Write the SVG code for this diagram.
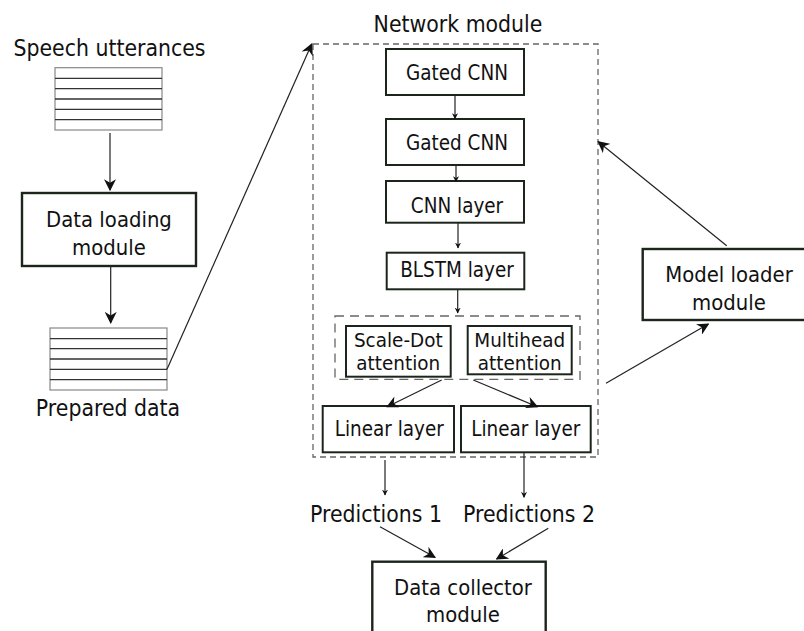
<svg xmlns="http://www.w3.org/2000/svg" width="804" height="631" viewBox="0 0 804 631">
<defs>
<style>
.t{font-family:"DejaVu Sans",sans-serif;fill:#111;text-anchor:middle;}
.big{font-size:20.5px;}
.mid{font-size:19.7px;}
.sm{font-size:18.4px;}
.box{fill:#fff;stroke:#1c251c;stroke-width:2;}
.bbox{fill:#fff;stroke:#1c251c;stroke-width:2.4;}
.dash{fill:none;stroke:#666;stroke-width:1.3;stroke-dasharray:6 4;}
.stk{fill:#fff;stroke:#888;stroke-width:1.2;}
.ln{stroke:#333;stroke-width:1.3;}
.c{fill:none;stroke:#222;stroke-width:1.2;}
</style>
<marker id="ahs" viewBox="0 0 10 10" refX="9" refY="5" markerWidth="6" markerHeight="6" markerUnits="userSpaceOnUse" orient="auto">
<path d="M0,0 L10,5 L0,10 L3,5 z" fill="#111"/>
</marker>
<marker id="ahb" viewBox="0 0 10 10" refX="9" refY="5" markerWidth="12" markerHeight="12" markerUnits="userSpaceOnUse" orient="auto">
<path d="M0,0 L10,5 L0,10 L3,5 z" fill="#111"/>
</marker>
</defs>
<rect width="804" height="631" fill="#fff"/>

<g id="speech-utterances">
<text class="t big" transform="translate(109.5,56) scale(1,1.1)">Speech utterances</text>
<rect class="stk" x="55" y="67.7" width="107" height="62.3"/>
<path class="ln" d="M55 78.3H162M55 88.7H162M55 99H162M55 109.3H162M55 119.7H162"/>
</g>

<g id="data-loading">
<rect class="bbox" x="22" y="193" width="174" height="73"/>
<text class="t mid" transform="translate(109,227) scale(1,1.1)">Data loading</text>
<text class="t mid" transform="translate(109,255) scale(1,1.1)">module</text>
</g>

<g id="prepared-data">
<rect class="stk" x="50" y="328" width="117" height="62"/>
<path class="ln" d="M50 338.7H167M50 348.7H167M50 359H167M50 369.3H167M50 379.7H167"/>
<text class="t big" transform="translate(108,416) scale(1,1.1)">Prepared data</text>
</g>

<g id="network-module">
<text class="t big" transform="translate(458,32) scale(1,1.1)">Network module</text>
<rect class="dash" x="313" y="44" width="285" height="413"/>
</g>

<g id="gated-cnn-1">
<rect class="box" x="386" y="49" width="138" height="46"/>
<text class="t sm" transform="translate(457,80) scale(1,1.2)">Gated CNN</text>
</g>
<g id="gated-cnn-2">
<rect class="box" x="386" y="119" width="138" height="46"/>
<text class="t sm" transform="translate(457,149.5) scale(1,1.2)">Gated CNN</text>
</g>
<g id="cnn-layer">
<rect class="box" x="386" y="181" width="138" height="41.7"/>
<text class="t sm" transform="translate(457,212.5) scale(1,1.2)">CNN layer</text>
</g>
<g id="blstm-layer">
<rect class="box" x="386.7" y="252.7" width="137.6" height="36.6"/>
<text class="t sm" transform="translate(457,277) scale(1,1.2)">BLSTM layer</text>
</g>

<g id="attention-group">
<rect class="dash" x="335" y="316" width="245" height="63.3" style="stroke-dasharray:9 6"/>
</g>
<g id="scale-dot">
<rect class="box" x="346" y="326" width="104.7" height="50.7"/>
<text class="t sm" transform="translate(398.3,346.5) scale(1,1.05)">Scale-Dot</text>
<text class="t sm" transform="translate(398.3,370) scale(1,1.05)">attention</text>
</g>
<g id="multihead">
<rect class="box" x="467.7" y="326" width="104" height="48.3"/>
<text class="t sm" transform="translate(519.7,346.5) scale(1,1.05)">Multihead</text>
<text class="t sm" transform="translate(519.7,370) scale(1,1.05)">attention</text>
</g>

<g id="linear-1">
<rect class="box" x="322.7" y="406" width="131.3" height="46.3"/>
<text class="t sm" transform="translate(389.3,436) scale(1,1.2)">Linear layer</text>
</g>
<g id="linear-2">
<rect class="box" x="461" y="406" width="129.7" height="46.3"/>
<text class="t sm" transform="translate(525.8,436) scale(1,1.2)">Linear layer</text>
</g>

<g id="predictions-1">
<text class="t big" transform="translate(376,521.5) scale(1,1.1)">Predictions 1</text>
</g>
<g id="predictions-2">
<text class="t big" transform="translate(529,521.5) scale(1,1.1)">Predictions 2</text>
</g>

<g id="data-collector">
<rect class="bbox" x="372.3" y="561.7" width="173.4" height="80"/>
<text class="t mid" transform="translate(463,594.5) scale(1,1.1)">Data collector</text>
<text class="t mid" transform="translate(463,622) scale(1,1.1)">module</text>
</g>

<g id="model-loader">
<rect class="bbox" x="642.7" y="249" width="170" height="71"/>
<text class="t mid" transform="translate(729,281.5) scale(1,1.1)">Model loader</text>
<text class="t mid" transform="translate(729,309.5) scale(1,1.1)">module</text>
</g>

<g id="connectors">
<line class="c" x1="110" y1="133" x2="110" y2="190" marker-end="url(#ahb)"/>
<line class="c" x1="110.7" y1="266" x2="110.7" y2="322.7" marker-end="url(#ahb)"/>
<line class="c" x1="167" y1="369.3" x2="311.7" y2="44" marker-end="url(#ahb)"/>
<line class="c" x1="455" y1="95" x2="455" y2="118.7" marker-end="url(#ahs)"/>
<line class="c" x1="456" y1="165" x2="456" y2="181.7" marker-end="url(#ahs)"/>
<line class="c" x1="458" y1="222.7" x2="458" y2="248" marker-end="url(#ahs)"/>
<line class="c" x1="457.7" y1="289.3" x2="457.7" y2="313" marker-end="url(#ahs)"/>
<line class="c" x1="441.7" y1="380" x2="387.3" y2="406.7" marker-end="url(#ahb)"/>
<line class="c" x1="473.3" y1="380" x2="537.3" y2="406.7" marker-end="url(#ahb)"/>
<line class="c" x1="385" y1="460" x2="385" y2="495" marker-end="url(#ahs)"/>
<line class="c" x1="524" y1="453" x2="524" y2="497.3" marker-end="url(#ahs)"/>
<line class="c" x1="380" y1="526.7" x2="435" y2="557.3" marker-end="url(#ahb)"/>
<line class="c" x1="548.3" y1="528.3" x2="496.7" y2="559" marker-end="url(#ahb)"/>
<line class="c" x1="726.7" y1="245.7" x2="598.3" y2="141.7" marker-end="url(#ahb)"/>
<line class="c" x1="606" y1="383.3" x2="708.3" y2="324" marker-end="url(#ahb)"/>
</g>
</svg>
